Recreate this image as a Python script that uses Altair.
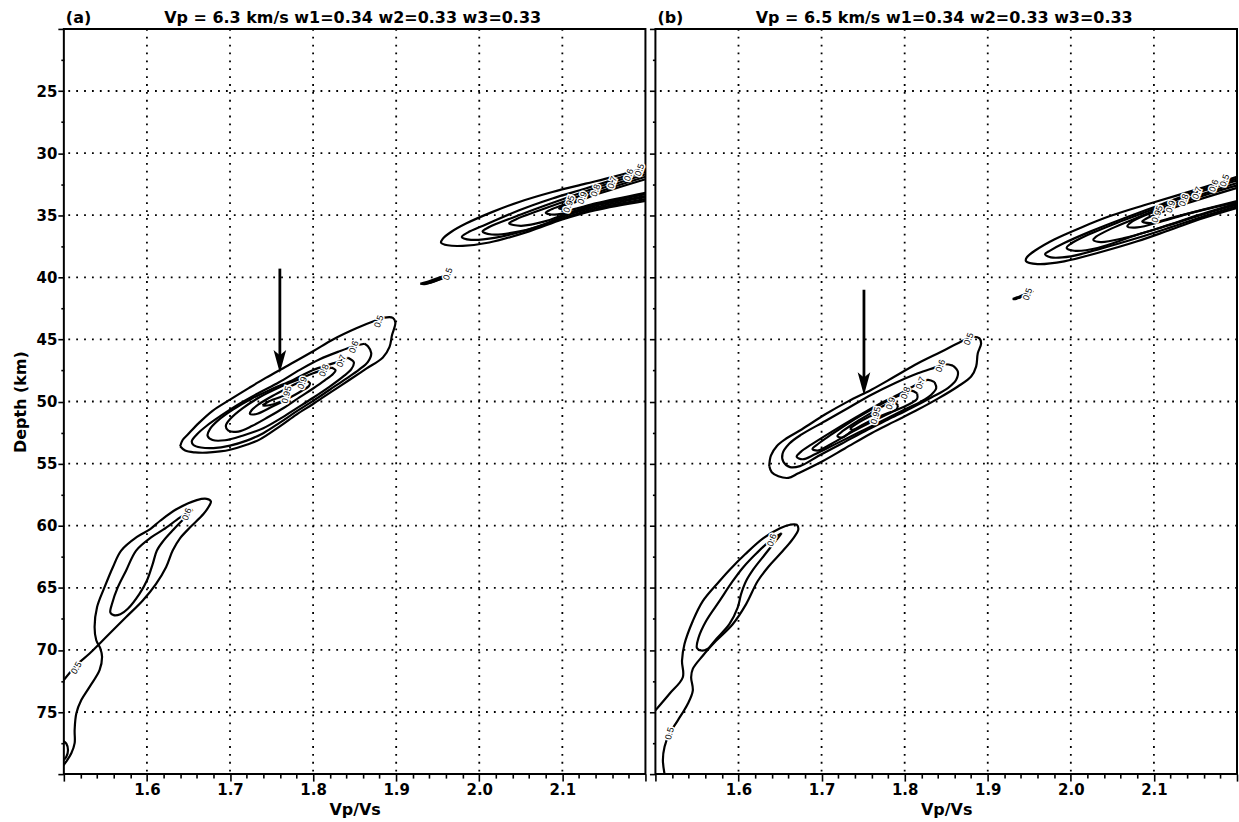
import altair as alt
import pandas as pd

# ---------------------------------------------------------------- axes
X_DOMAIN = [1.5, 2.2]
Y_DOMAIN = [20, 80]
X_TICKS = [1.50, 1.52, 1.54, 1.56, 1.58, 1.60, 1.62, 1.64, 1.66, 1.68,
           1.70, 1.72, 1.74, 1.76, 1.78, 1.80, 1.82, 1.84, 1.86, 1.88,
           1.90, 1.92, 1.94, 1.96, 1.98, 2.00, 2.02, 2.04, 2.06, 2.08,
           2.10, 2.12, 2.14, 2.16, 2.18, 2.20]
Y_TICKS = [20, 22.5, 25, 27.5, 30, 32.5, 35, 37.5, 40, 42.5, 45, 47.5, 50,
           52.5, 55, 57.5, 60, 62.5, 65, 67.5, 70, 72.5, 75, 77.5, 80]
X_GRID = [1.6, 1.7, 1.8, 1.9, 2.0, 2.1]
Y_GRID = [25, 30, 35, 40, 45, 50, 55, 60, 65, 70, 75]

TITLE_A = "Vp = 6.3 km/s w1=0.34 w2=0.33 w3=0.33"
TITLE_B = "Vp = 6.5 km/s w1=0.34 w2=0.33 w3=0.33"

# ------------------------------------------------ panel (a) contours
# (Vp/Vs, depth km) vertices of each stack-amplitude contour
A_MAIN_05 = [(1.640, 53.60), (1.646, 53.95), (1.658, 54.10), (1.672, 54.12), (1.688, 54.02),
             (1.700, 53.88), (1.720, 53.48), (1.736, 53.05), (1.760, 52.00), (1.780, 51.05),
             (1.800, 50.20), (1.820, 49.30), (1.844, 48.25), (1.864, 47.35), (1.884, 46.45),
             (1.892, 45.60), (1.895, 44.65), (1.899, 43.64), (1.896, 43.26), (1.886, 43.24),
             (1.876, 43.45), (1.852, 44.10), (1.824, 45.00), (1.800, 45.95), (1.767, 47.20),
             (1.743, 48.10), (1.723, 48.90), (1.700, 49.85), (1.679, 50.75), (1.663, 51.70),
             (1.650, 52.60), (1.643, 53.10), (1.640, 53.60)]
A_MAIN_06 = [(1.862, 45.35), (1.849, 45.55), (1.832, 45.95), (1.808, 46.60), (1.784, 47.45),
             (1.759, 48.45), (1.735, 49.30), (1.711, 50.20), (1.690, 51.10), (1.672, 51.95),
             (1.660, 52.65), (1.654, 53.20), (1.656, 53.50), (1.665, 53.70), (1.680, 53.75),
             (1.700, 53.55), (1.720, 53.15), (1.740, 52.55), (1.760, 51.70), (1.780, 50.80),
             (1.800, 49.95), (1.820, 49.05), (1.840, 48.15), (1.855, 47.45), (1.866, 46.80),
             (1.870, 46.10), (1.866, 45.55), (1.862, 45.35)]
A_MAIN_07 = [(1.842, 46.47), (1.824, 46.93), (1.800, 47.46), (1.776, 48.26), (1.751, 48.98),
             (1.727, 49.73), (1.703, 50.67), (1.686, 51.50), (1.676, 52.20), (1.673, 52.75),
             (1.679, 53.10), (1.694, 53.12), (1.715, 52.75), (1.740, 52.15), (1.760, 51.40),
             (1.780, 50.55), (1.800, 49.70), (1.820, 48.80), (1.836, 48.00), (1.846, 47.40),
             (1.849, 46.84), (1.842, 46.47)]
A_MAIN_08 = [(1.822, 47.27), (1.800, 47.73), (1.784, 48.18), (1.759, 48.88), (1.735, 49.68),
             (1.715, 50.55), (1.701, 51.35), (1.695, 51.95), (1.698, 52.35), (1.710, 52.42),
             (1.727, 51.95), (1.746, 51.25), (1.765, 50.50), (1.784, 49.65), (1.800, 48.95),
             (1.814, 48.30), (1.824, 47.78), (1.827, 47.50), (1.822, 47.27)]
A_MAIN_09 = [(1.792, 48.32), (1.780, 48.55), (1.771, 48.85), (1.751, 49.55), (1.735, 50.20),
             (1.726, 50.70), (1.724, 51.00), (1.733, 50.98), (1.751, 50.40), (1.770, 49.75),
             (1.786, 49.15), (1.795, 48.75), (1.796, 48.50), (1.792, 48.32)]
A_MAIN_095 = [(1.739, 50.32), (1.747, 49.98), (1.759, 49.68), (1.767, 49.52), (1.769, 49.70),
              (1.759, 50.05), (1.747, 50.30), (1.739, 50.32)]

A_UR_05 = [(2.200, 31.20), (2.160, 31.93), (2.128, 32.46), (2.088, 33.13), (2.048, 33.93),
           (2.016, 34.73), (1.984, 35.67), (1.966, 36.35), (1.956, 36.90), (1.954, 37.20),
           (1.962, 37.42), (1.980, 37.47), (2.012, 37.20), (2.060, 36.30), (2.100, 35.35),
           (2.140, 34.60), (2.200, 33.85)]
A_UR_06 = [(2.200, 31.35), (2.168, 32.00), (2.128, 32.85), (2.088, 33.65), (2.048, 34.60),
           (2.008, 35.75), (1.986, 36.40), (1.979, 36.75), (1.990, 36.98), (2.020, 36.80),
           (2.060, 36.15), (2.100, 35.25), (2.140, 34.48), (2.200, 33.70)]
A_UR_07 = [(2.200, 31.50), (2.160, 32.35), (2.120, 33.25), (2.080, 34.20), (2.040, 35.20),
           (2.012, 35.95), (2.004, 36.30), (2.015, 36.55), (2.050, 36.28), (2.080, 35.68),
           (2.100, 35.12), (2.140, 34.36), (2.200, 33.55)]
A_UR_08 = [(2.200, 31.70), (2.140, 33.00), (2.104, 33.85), (2.072, 34.62), (2.045, 35.30),
           (2.036, 35.65), (2.050, 35.85), (2.080, 35.48), (2.100, 35.00), (2.140, 34.24),
           (2.200, 33.45)]
A_UR_09 = [(2.200, 31.90), (2.160, 32.75), (2.128, 33.50), (2.104, 34.10), (2.086, 34.55),
           (2.080, 34.80), (2.090, 34.95), (2.110, 34.75), (2.140, 34.15), (2.200, 33.30)]
A_UR_095 = [(2.200, 32.10), (2.140, 33.35), (2.120, 33.85), (2.100, 34.30), (2.096, 34.45),
            (2.110, 34.55), (2.140, 34.05), (2.200, 33.20)]

A_BLOB_05 = [(1.929, 40.52), (1.942, 40.25), (1.955, 39.95), (1.963, 39.82), (1.960, 39.95),
             (1.948, 40.28), (1.934, 40.55), (1.929, 40.52)]
A_BLOB_06 = [(1.936, 40.45), (1.950, 40.15), (1.958, 39.95), (1.952, 40.15), (1.938, 40.47),
             (1.936, 40.45)]

A_LL_05 = [(1.499, 79.33), (1.503, 78.98), (1.509, 78.32), (1.513, 77.51), (1.513, 76.44),
           (1.515, 75.11), (1.521, 74.04), (1.531, 72.97), (1.543, 71.63), (1.546, 70.56),
           (1.544, 69.89), (1.539, 69.22), (1.537, 68.16), (1.540, 66.55), (1.549, 64.95),
           (1.559, 63.34), (1.569, 62.00), (1.588, 60.90), (1.604, 60.27), (1.616, 59.60),
           (1.636, 58.66), (1.660, 57.94), (1.672, 57.84), (1.677, 58.05), (1.675, 58.40),
           (1.668, 59.06), (1.652, 60.13), (1.640, 61.00), (1.631, 62.00), (1.623, 63.34),
           (1.611, 64.68), (1.595, 66.02), (1.575, 67.35), (1.559, 68.42), (1.545, 69.36),
           (1.531, 70.29), (1.515, 71.23), (1.499, 72.51)]
A_LL_06 = [(1.655, 58.70), (1.640, 59.33), (1.620, 60.30), (1.605, 60.94), (1.587, 62.00),
           (1.575, 63.60), (1.565, 64.95), (1.558, 66.28), (1.556, 67.00), (1.560, 67.20),
           (1.568, 67.12), (1.577, 66.68), (1.591, 65.48), (1.600, 64.41), (1.607, 63.07),
           (1.612, 62.00), (1.620, 61.20), (1.632, 60.30), (1.645, 59.40), (1.655, 58.70)]
A_LL_LOOP = [(1.499, 77.30), (1.503, 77.55), (1.505, 78.05), (1.503, 78.60), (1.499, 78.90)]

# ------------------------------------------------ panel (b) contours
B_MAIN_05 = [(1.637, 55.20), (1.640, 55.70), (1.648, 56.02), (1.660, 56.15), (1.672, 55.78),
             (1.700, 54.85), (1.728, 53.78), (1.760, 52.55), (1.788, 51.60), (1.816, 50.65),
             (1.840, 49.77), (1.864, 48.79), (1.880, 47.99), (1.886, 47.19), (1.888, 46.12),
             (1.892, 45.32), (1.890, 44.92), (1.882, 44.79), (1.872, 45.05), (1.844, 45.99),
             (1.816, 46.92), (1.788, 47.99), (1.760, 49.05), (1.732, 49.99), (1.704, 51.05),
             (1.676, 52.25), (1.656, 53.05), (1.646, 53.60), (1.639, 54.35), (1.637, 55.20)]
B_MAIN_06 = [(1.858, 47.11), (1.848, 47.00), (1.836, 47.27), (1.816, 47.72), (1.788, 48.52),
             (1.760, 49.45), (1.732, 50.52), (1.704, 51.59), (1.676, 52.65), (1.661, 53.40),
             (1.653, 54.20), (1.654, 54.85), (1.662, 55.28), (1.674, 55.20), (1.696, 54.39),
             (1.724, 53.40), (1.752, 52.39), (1.780, 51.45), (1.808, 50.52), (1.832, 49.67),
             (1.852, 48.92), (1.862, 48.25), (1.864, 47.59), (1.858, 47.11)]
B_MAIN_07 = [(1.836, 48.44), (1.828, 48.25), (1.810, 48.79), (1.792, 49.45), (1.768, 50.25),
             (1.740, 51.32), (1.712, 52.44), (1.688, 53.45), (1.675, 54.05), (1.670, 54.45),
             (1.677, 54.65), (1.692, 54.25), (1.716, 53.45), (1.744, 52.52), (1.772, 51.59),
             (1.800, 50.65), (1.820, 49.99), (1.832, 49.45), (1.838, 48.92), (1.836, 48.44)]
B_MAIN_08 = [(1.815, 49.35), (1.808, 49.13), (1.796, 49.45), (1.784, 49.77), (1.760, 50.65),
             (1.736, 51.59), (1.712, 52.65), (1.696, 53.40), (1.689, 53.82), (1.695, 53.95),
             (1.704, 53.70), (1.716, 53.25), (1.738, 52.40), (1.764, 51.50), (1.788, 50.75),
             (1.806, 50.20), (1.815, 49.78), (1.815, 49.35)]
B_MAIN_09 = [(1.792, 50.31), (1.786, 50.04), (1.776, 50.30), (1.764, 50.75), (1.744, 51.55),
             (1.726, 52.35), (1.719, 52.78), (1.725, 52.90), (1.737, 52.35), (1.760, 51.50),
             (1.780, 50.92), (1.790, 50.65), (1.792, 50.31)]
B_MAIN_095 = [(1.734, 52.17), (1.744, 51.72), (1.756, 51.27), (1.764, 51.05), (1.768, 51.22),
              (1.760, 51.55), (1.748, 51.98), (1.738, 52.28), (1.734, 52.17)]

B_UR_05 = [(2.200, 31.90), (2.160, 32.75), (2.128, 33.40), (2.088, 34.20), (2.048, 35.05),
           (2.012, 36.00), (1.980, 36.95), (1.958, 37.80), (1.947, 38.40), (1.946, 38.70),
           (1.960, 38.93), (1.992, 38.71), (2.032, 38.04), (2.080, 37.10), (2.120, 36.17),
           (2.160, 35.23), (2.200, 34.42)]
B_UR_06 = [(2.200, 32.05), (2.144, 33.25), (2.104, 34.25), (2.064, 35.25), (2.024, 36.30),
           (1.992, 37.24), (1.975, 37.85), (1.969, 38.12), (1.976, 38.39), (2.000, 38.31),
           (2.032, 37.77), (2.080, 36.84), (2.120, 35.98), (2.160, 35.09), (2.200, 34.29)]
B_UR_07 = [(2.200, 32.20), (2.136, 33.55), (2.096, 34.60), (2.056, 35.60), (2.020, 36.60),
           (2.000, 37.30), (1.995, 37.64), (2.004, 37.86), (2.032, 37.64), (2.080, 36.57),
           (2.120, 35.76), (2.160, 34.91), (2.200, 34.16)]
B_UR_08 = [(2.200, 32.40), (2.144, 33.60), (2.112, 34.35), (2.080, 35.20), (2.048, 36.10),
           (2.030, 36.75), (2.027, 36.97), (2.036, 37.16), (2.064, 36.84), (2.100, 36.17),
           (2.140, 35.28), (2.200, 34.05)]
B_UR_09 = [(2.200, 32.60), (2.160, 33.40), (2.120, 34.30), (2.088, 35.05), (2.072, 35.60),
           (2.068, 35.90), (2.080, 35.98), (2.112, 35.44), (2.144, 34.83), (2.200, 33.95)]
B_UR_095 = [(2.200, 32.80), (2.128, 34.30), (2.104, 34.90), (2.090, 35.30), (2.086, 35.50),
            (2.096, 35.63), (2.128, 35.09), (2.200, 33.85)]

B_BLOB_05 = [(1.930, 41.74), (1.939, 41.52), (1.948, 41.28), (1.954, 41.14), (1.950, 41.30),
             (1.940, 41.58), (1.933, 41.76), (1.930, 41.74)]
B_BLOB_06 = [(1.936, 41.65), (1.946, 41.38), (1.950, 41.26), (1.944, 41.45), (1.937, 41.66),
             (1.936, 41.65)]

B_LL_05 = [(1.500, 74.87), (1.517, 73.53), (1.533, 72.20), (1.532, 70.87), (1.535, 69.53),
           (1.545, 67.67), (1.557, 66.07), (1.577, 64.47), (1.590, 63.50), (1.608, 62.30),
           (1.630, 61.00), (1.650, 60.20), (1.662, 59.92), (1.670, 59.92), (1.672, 60.30),
           (1.665, 61.10), (1.651, 62.20), (1.636, 63.30), (1.623, 64.47), (1.609, 66.33),
           (1.593, 67.93), (1.573, 69.27), (1.557, 70.47), (1.545, 71.53), (1.543, 72.20),
           (1.545, 73.27), (1.539, 74.33), (1.527, 75.67), (1.517, 76.73), (1.511, 77.80),
           (1.509, 78.87), (1.511, 80.00)]
B_LL_06 = [(1.652, 60.60), (1.640, 61.10), (1.622, 62.20), (1.605, 63.40), (1.593, 64.47),
           (1.577, 66.07), (1.561, 67.67), (1.552, 69.00), (1.550, 69.85), (1.555, 70.05),
           (1.562, 69.95), (1.573, 69.13), (1.589, 67.93), (1.599, 66.60), (1.603, 65.53),
           (1.609, 64.47), (1.618, 63.50), (1.632, 62.30), (1.645, 61.20), (1.652, 60.60)]

# contour labels: (text, Vp/Vs, depth, rotation)
A_LABELS = [("0.5", 1.879, 43.55, 290), ("0.6", 1.849, 45.60, 290), ("0.7", 1.834, 46.72, 290),
            ("0.8", 1.813, 47.50, 290), ("0.9", 1.787, 48.50, 290), ("0.95", 1.768, 49.45, 285),
            ("0.5", 2.193, 31.35, 290), ("0.6", 2.180, 31.75, 290), ("0.7", 2.160, 32.35, 290),
            ("0.8", 2.140, 33.00, 290), ("0.9", 2.124, 33.60, 290), ("0.95", 2.108, 34.10, 290),
            ("0.5", 1.962, 39.72, 290), ("0.6", 1.648, 59.06, 290), ("0.5", 1.515, 71.45, 300)]
B_LABELS = [("0.5", 1.877, 44.95, 290), ("0.6", 1.843, 47.12, 290), ("0.7", 1.819, 48.50, 290),
            ("0.8", 1.801, 49.30, 290), ("0.9", 1.783, 50.15, 290), ("0.95", 1.765, 51.12, 285),
            ("0.5", 2.185, 32.20, 290), ("0.6", 2.172, 32.62, 290), ("0.7", 2.152, 33.20, 290),
            ("0.8", 2.136, 33.78, 290), ("0.9", 2.120, 34.30, 290), ("0.95", 2.104, 34.90, 290),
            ("0.5", 1.948, 41.36, 290), ("0.6", 1.640, 61.15, 290), ("0.5", 1.517, 76.73, 285)]

# best-fit markers: (Vp/Vs, arrow top depth, arrow tip depth)
A_ARROW = (1.760, 39.3, 47.7)
B_ARROW = (1.751, 41.0, 49.5)

A_CONTOURS = [("m05", A_MAIN_05), ("m06", A_MAIN_06), ("m07", A_MAIN_07), ("m08", A_MAIN_08),
              ("m09", A_MAIN_09), ("m095", A_MAIN_095), ("u05", A_UR_05), ("u06", A_UR_06),
              ("u07", A_UR_07), ("u08", A_UR_08), ("u09", A_UR_09), ("u095", A_UR_095),
              ("b05", A_BLOB_05), ("b06", A_BLOB_06), ("l05", A_LL_05), ("l06", A_LL_06),
              ("lloop", A_LL_LOOP)]
B_CONTOURS = [("m05", B_MAIN_05), ("m06", B_MAIN_06), ("m07", B_MAIN_07), ("m08", B_MAIN_08),
              ("m09", B_MAIN_09), ("m095", B_MAIN_095), ("u05", B_UR_05), ("u06", B_UR_06),
              ("u07", B_UR_07), ("u08", B_UR_08), ("u09", B_UR_09), ("u095", B_UR_095),
              ("b05", B_BLOB_05), ("b06", B_BLOB_06), ("l05", B_LL_05), ("l06", B_LL_06)]

FONT = "DejaVu Sans"
LABEL_FONT = "Liberation Sans"
ARROW_HEAD = "M0,0 L-0.55,-2 L0,-1.55 L0.55,-2 Z"
PANEL_W = 583
PANEL_H = 747


def contour_frame(contours):
    rows = []
    for name, pts in contours:
        for k, (vx, vy) in enumerate(pts):
            rows.append({"cid": name, "k": k, "x": vx, "y": vy})
    return pd.DataFrame(rows)


def panel(tag, title, contours, labels, arrow, show_y_labels):
    xs = alt.Scale(domain=X_DOMAIN, nice=False, zero=False)
    ys = alt.Scale(domain=Y_DOMAIN, reverse=True, nice=False, zero=False)

    major_x = "abs(datum.value * 10 - round(datum.value * 10)) < 0.001"
    major_y = "datum.value % 5 == 0"
    x_axis = alt.Axis(
        values=X_TICKS, title="Vp/Vs", grid=False, domain=False,
        labelExpr="(" + major_x + ") && datum.value > 1.55 && datum.value < 2.15 "
                  "? format(datum.value, '.1f') : ''",
        tickSize={"condition": {"test": major_x, "value": 7}, "value": 4},
        tickWidth=1.6, tickColor="black", labelPadding=1, titlePadding=4,
        labelOverlap=False, labelFlush=False,
    )
    y_kwargs = dict(
        values=Y_TICKS, grid=False, domain=False,
        tickSize={"condition": {"test": major_y, "value": 6}, "value": 3},
        tickWidth=1.6, tickColor="black", labelOverlap=False, labelFlush=False,
    )
    if show_y_labels:
        y_axis = alt.Axis(
            title="Depth (km)", labelPadding=1, titlePadding=8,
            labelExpr="(" + major_y + ") && datum.value > 20 && datum.value < 80 ? datum.label : ''",
            **y_kwargs,
        )
    else:
        y_axis = alt.Axis(title=None, labels=False, **y_kwargs)

    X = lambda field: alt.X(field, type="quantitative", scale=xs, axis=x_axis)
    Y = lambda field: alt.Y(field, type="quantitative", scale=ys, axis=y_axis)

    grid_x = alt.Chart(pd.DataFrame({"x": X_GRID})).mark_rule(
        color="black", strokeWidth=1.8, strokeDash=[1.8, 6.1]
    ).encode(x=X("x"))
    grid_y = alt.Chart(pd.DataFrame({"y": Y_GRID})).mark_rule(
        color="black", strokeWidth=1.8, strokeDash=[1.8, 6.1]
    ).encode(y=Y("y"))

    lines = alt.Chart(contour_frame(contours)).mark_line(
        color="black", strokeWidth=2.2, interpolate="catmull-rom", clip=True
    ).encode(x=X("x"), y=Y("y"), detail="cid:N", order="k:Q")

    lab_df = pd.DataFrame(labels, columns=["t", "x", "y", "a"])
    halo = alt.Chart(lab_df).mark_text(
        font=LABEL_FONT, fontSize=9, color="white", stroke="white", strokeWidth=3
    ).encode(x=X("x"), y=Y("y"), text="t:N", angle=alt.Angle("a:Q", scale=None))
    lab = alt.Chart(lab_df).mark_text(
        font=LABEL_FONT, fontSize=9, color="black"
    ).encode(x=X("x"), y=Y("y"), text="t:N", angle=alt.Angle("a:Q", scale=None))

    ax, atop, atip = arrow
    arrow_df = pd.DataFrame({"x": [ax], "y": [atop], "y2": [atip - 1.2], "tip": [atip]})
    shaft = alt.Chart(arrow_df).mark_rule(color="black", strokeWidth=2.8).encode(
        x=X("x"), y=Y("y"), y2="y2:Q"
    )
    head = alt.Chart(arrow_df).mark_point(
        shape=ARROW_HEAD, size=529, filled=True, color="black", opacity=1, strokeWidth=0
    ).encode(x=X("x"), y=Y("tip"))

    heading = alt.Chart(pd.DataFrame({"t": [tag, title], "al": ["left", "center"]}))
    tag_mark = heading.transform_filter("datum.al == 'left'").mark_text(
        align="left", baseline="alphabetic", font=FONT, fontWeight="bold",
        fontSize=16, color="black"
    ).encode(text="t:N", x=alt.value(2), y=alt.value(-6))
    title_mark = heading.transform_filter("datum.al == 'center'").mark_text(
        align="center", baseline="alphabetic", font=FONT, fontWeight="bold",
        fontSize=16, color="black"
    ).encode(text="t:N", x=alt.value(PANEL_W / 2 - 2), y=alt.value(-6))

    return alt.layer(grid_x, grid_y, lines, halo, lab, shaft, head, tag_mark, title_mark).properties(
        width=PANEL_W, height=PANEL_H
    )


chart = alt.hconcat(
    panel("(a)", TITLE_A, A_CONTOURS, A_LABELS, A_ARROW, True),
    panel("(b)", TITLE_B, B_CONTOURS, B_LABELS, B_ARROW, False),
    spacing=10,
    bounds="flush",
).configure(
    background="white",
    padding={"left": 11, "top": 8, "right": 0, "bottom": 0},
).configure_view(
    stroke="black", strokeWidth=2
).configure_axis(
    labelFont=FONT, labelFontWeight="bold", labelFontSize=15, labelColor="black",
    titleFont=FONT, titleFontWeight="bold", titleFontSize=16, titleColor="black",
)

chart.save("out.html", embed_options={"renderer": "svg", "actions": False})
